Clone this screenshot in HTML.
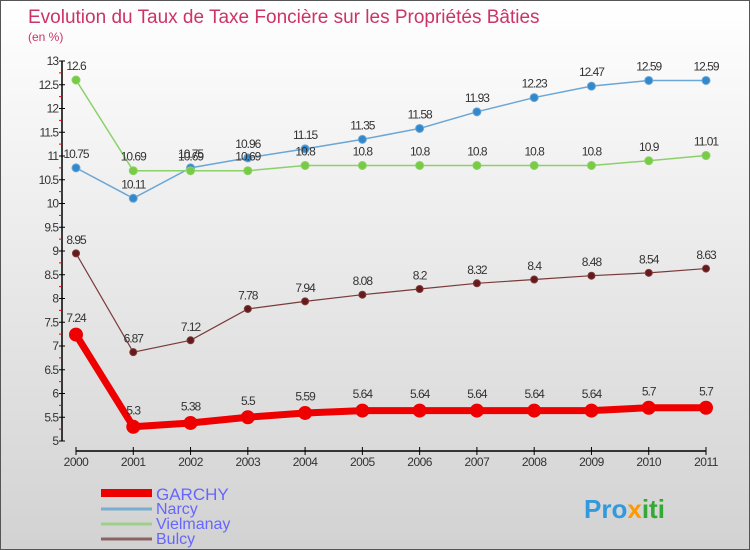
<!DOCTYPE html>
<html><head><meta charset="utf-8"><style>
body{margin:0}
#c{width:750px;height:550px;position:relative;background:linear-gradient(#ffffff,#d2d2d2);font-family:"Liberation Sans",sans-serif;box-sizing:border-box;border:1px solid #555;overflow:hidden}
text{font-family:"Liberation Sans",sans-serif}
</style></head><body>
<div id="c">
<svg id="s" width="750" height="550">
<text x="27" y="22" font-size="19" fill="#cc3366">Evolution du Taux de Taxe Foncière sur les Propriétés Bâties</text>
<text x="27" y="40" font-size="12" fill="#cc3366">(en %)</text>
<g id="axes"></g><g id="series"></g>
<g>
<line x1="100" y1="492" x2="151" y2="492" stroke="#ee0000" stroke-width="8"/>
<text x="155" y="499" font-size="17" fill="#6666ff">GARCHY</text>
<line x1="100" y1="508" x2="151" y2="508" stroke="#7aaed0" stroke-width="3"/>
<text x="155" y="513" font-size="16" fill="#6666ff">Narcy</text>
<line x1="100" y1="523" x2="151" y2="523" stroke="#9ed08a" stroke-width="3"/>
<text x="155" y="528" font-size="16" fill="#6666ff">Vielmanay</text>
<line x1="100" y1="538" x2="151" y2="538" stroke="#8a6464" stroke-width="3"/>
<text x="155" y="543" font-size="16" fill="#6666ff">Bulcy</text>
</g>
<text x="583" y="517" font-size="26" font-weight="bold" fill="#3399dd">Pro<tspan fill="#ff9900">x</tspan><tspan fill="#33aa33">iti</tspan></text>
</svg></div>
<script>
const years=[2000,2001,2002,2003,2004,2005,2006,2007,2008,2009,2010,2011];
const garchy=[7.24,5.3,5.38,5.5,5.59,5.64,5.64,5.64,5.64,5.64,5.7,5.7];
const narcy=[10.75,10.11,10.75,10.96,11.15,11.35,11.58,11.93,12.23,12.47,12.59,12.59];
const vielmanay=[12.6,10.69,10.69,10.69,10.8,10.8,10.8,10.8,10.8,10.8,10.9,11.01];
const bulcy=[8.95,6.87,7.12,7.78,7.94,8.08,8.2,8.32,8.4,8.48,8.54,8.63];
const yTicks=[5,5.5,6,6.5,7,7.5,8,8.5,9,9.5,10,10.5,11,11.5,12,12.5,13];
const NS="http://www.w3.org/2000/svg";
const X=i=>75+i*(630/(years.length-1));
const Y=v=>440-(v-5)*47.5;
function mk(t,a,p){const e=document.createElementNS(NS,t);for(const k in a)e.setAttribute(k,a[k]);p.appendChild(e);return e;}
const ax=document.getElementById('axes'),se=document.getElementById('series');
let yl=mk('line',{x1:61,y1:Y(13),x2:61,y2:Y(5),stroke:'#000','stroke-width':1.5},ax);


yTicks.forEach(v=>{mk('line',{x1:58,y1:Y(v),x2:64,y2:Y(v),stroke:'#000'},ax);
if(v<13)mk('line',{x1:58,y1:Y(v+0.25),x2:61,y2:Y(v+0.25),stroke:'#e00'},ax);
const t=mk('text',{x:57,y:Y(v)+4,'font-size':12,'text-anchor':'end',fill:'#333','letter-spacing':-1},ax);t.textContent=String(v);

});
let xl=mk('line',{x1:X(0),y1:450,x2:X(11),y2:450,stroke:'#000','stroke-width':1.5},ax);


years.forEach((y,i)=>{mk('line',{x1:X(i),y1:446,x2:X(i),y2:454,stroke:'#000'},ax);
const t=mk('text',{x:X(i),y:465,'font-size':12,'text-anchor':'middle',fill:'#333','letter-spacing':-0.5},ax);t.textContent=y;

});
function draw(name,vals,col,dot,w,r){const g=mk('g',{},se);


mk('polyline',{points:vals.map((v,i)=>X(i)+','+Y(v)).join(' '),fill:'none',stroke:col,'stroke-width':w},g);
vals.forEach((v,i)=>{const c=mk('circle',{cx:X(i),cy:Y(v),r:r,fill:dot,stroke:col,'stroke-width':1},g);


const t=mk('text',{x:X(i),y:Y(v)-(r+6),'font-size':12,'text-anchor':'middle',fill:'#333','letter-spacing':-1},g);t.textContent=String(v);

});}
draw('narcy',narcy,'#6aa6d6','#3388cc',1.5,4);
draw('vielmanay',vielmanay,'#8cd06a','#77cc44',1.5,4);
draw('bulcy',bulcy,'#7a3a3a','#661a1a',1.2,3.5);
draw('garchy',garchy,'#ee0000','#ee0000',7,6.5);
</script></body></html>
